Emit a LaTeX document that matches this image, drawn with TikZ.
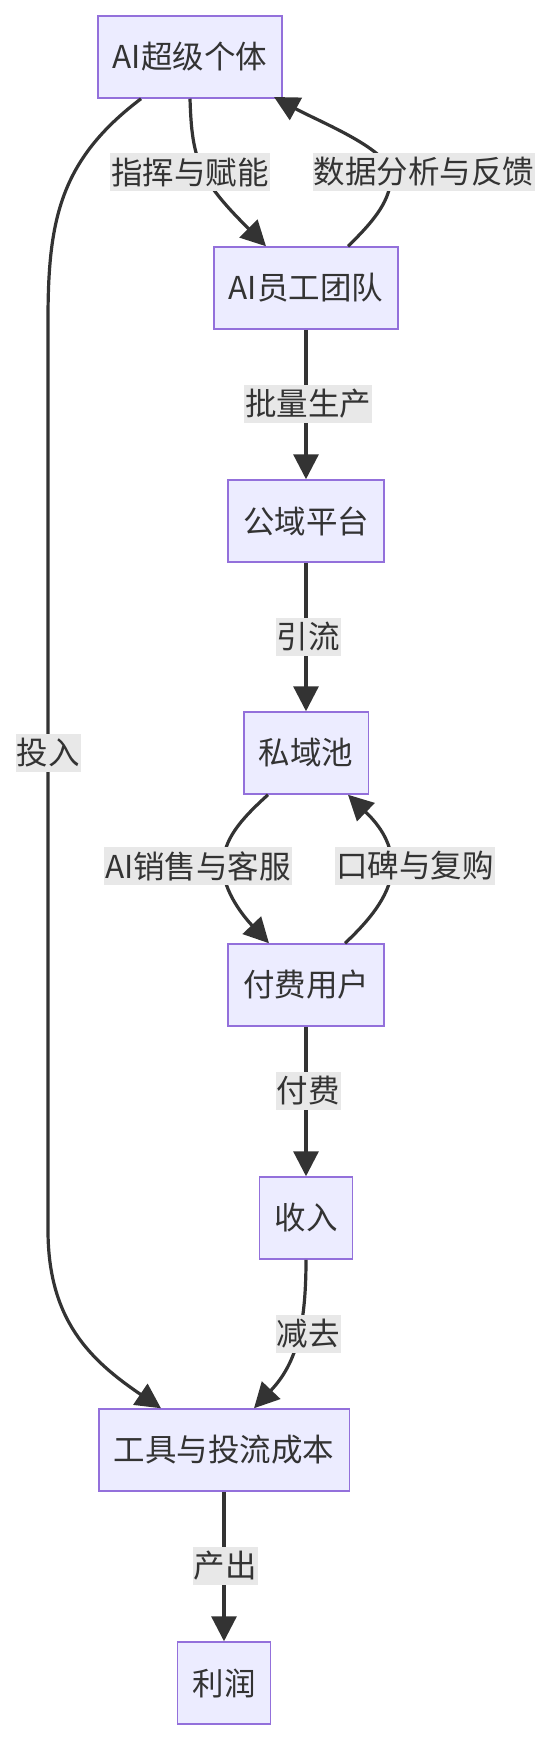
\documentclass[tikz,border=0pt]{standalone}
\usepackage{fontspec}
\setmainfont{Noto Sans CJK SC}
\usetikzlibrary{arrows.meta}

\definecolor{boxfill}{HTML}{ECECFF}
\definecolor{boxline}{HTML}{9370DB}
\definecolor{ink}{HTML}{333333}
\definecolor{lblbg}{HTML}{E8E8E8}

\begin{document}
\begin{tikzpicture}[x=1pt,y=-1pt,
  box/.style={draw=boxline,fill=boxfill,line width=1.5pt,inner xsep=15pt,
    minimum height=82pt,text=ink,font=\fontsize{31.5}{38}\selectfont},
  lbl/.style={fill=lblbg,inner xsep=1pt,inner ysep=0pt,minimum height=38pt,
    text=ink,font=\fontsize{31.5}{38}\selectfont},
  flow/.style={draw=ink,line width=3.2pt,-{Triangle[length=25pt,width=25pt]}}]
\useasboundingbox (0,0) rectangle (552,1742);

% Define coordinates.
\coordinate (psuper) at (190,57);
\coordinate (pteam) at (306,288);
\coordinate (pplat) at (306,521);
\coordinate (ppool) at (306,753);
\coordinate (ppay) at (306,985);
\coordinate (pincome) at (306,1218);
\coordinate (ptools) at (224,1450);
\coordinate (pprofit) at (224,1683);

% Nodes
\node[box] (super) at (psuper) {AI超级个体};
\node[box] (team) at (pteam) {AI员工团队};
\node[box] (plat) at (pplat) {公域平台};
\node[box] (pool) at (ppool) {私域池};
\node[box] (pay) at (ppay) {付费用户};
\node[box] (income) at (pincome) {收入};
\node[box] (tools) at (ptools) {工具与投流成本};
\node[box] (profit) at (pprofit) {利润};

% Curved connectors
\draw[flow] (super.south) .. controls (191,130) and (193,150) .. (203,172)
  .. controls (213,194) and (240,220) .. ([xshift=-40pt]team.north);
\draw[flow] ([xshift=42pt]team.north) .. controls (375,220) and (391,200) .. (391,175)
  .. controls (391,150) and (320,122) .. (274,97);
\draw[flow] ([xshift=-49pt]super.south) .. controls (60,160) and (48,220) .. (48,320)
  -- (48,1230) .. controls (48,1320) and (90,1360) .. ([xshift=-63pt]tools.north);
\draw[flow] ([xshift=-38pt]pool.south) .. controls (240,820) and (223,840) .. (223,866)
  .. controls (223,892) and (245,918) .. ([xshift=-37pt]pay.north);
\draw[flow] ([xshift=39pt]pay.north) .. controls (372,918) and (392,892) .. (392,866)
  .. controls (392,840) and (376,822) .. ([xshift=42pt]pool.south);
\draw[flow] (income.south) .. controls (306,1330) and (295,1365) .. ([xshift=30pt]tools.north);

% Straight connectors
\draw[flow] (team) -- (plat);
\draw[flow] (plat) -- (pool);
\draw[flow] (pay) -- (income);
\draw[flow] (tools) -- (profit);

% Edge labels
\node[lbl] (l1) at (190,172) {指挥与赋能};
\node[lbl] (l2) at (424,172) {数据分析与反馈};
\node[lbl] (l3) at (308,404) {批量生产};
\node[lbl] (l4) at (308,637) {引流};
\node[lbl] (l5) at (48,753) {投入};
\node[lbl] (l6) at (198,866) {AI销售与客服};
\node[lbl] (l7) at (415,866) {口碑与复购};
\node[lbl] (l8) at (308,1091) {付费};
\node[lbl] (l9) at (308,1334) {减去};
\node[lbl] (l10) at (225,1566) {产出};

\end{tikzpicture}
\end{document}
